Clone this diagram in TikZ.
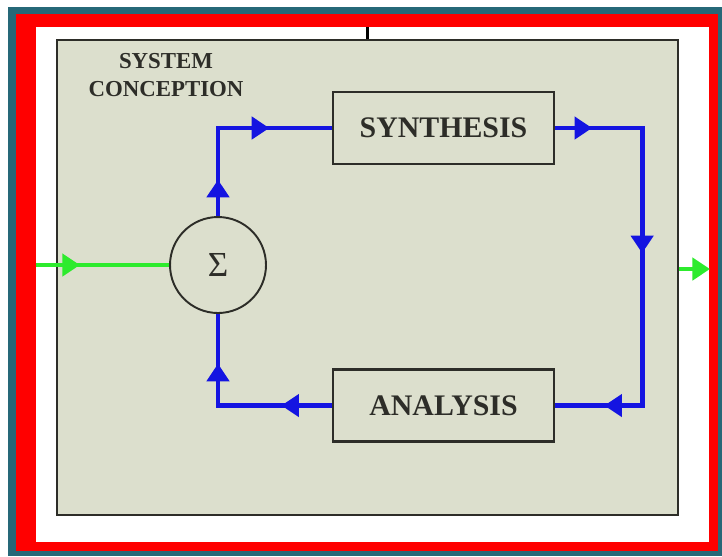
\documentclass[tikz,border=0pt]{standalone}
\usepackage{fontspec}
\setmainfont{Liberation Serif}
\usetikzlibrary{arrows.meta,decorations.markings}

\definecolor{frameteal}{RGB}{38,104,120}
\definecolor{panelgray}{RGB}{220,223,205}
\definecolor{flowblue}{RGB}{20,20,225}
\definecolor{signalgreen}{RGB}{45,235,45}
\definecolor{inkgray}{RGB}{45,45,40}

\tikzset{
  block/.style={draw=inkgray, line width=1.3pt, fill=panelgray, minimum width=4.42cm, minimum height=1.44cm, text=inkgray, font=\fontsize{17}{20}\selectfont\bfseries},
  flow/.style={flowblue, line width=2.8pt},
  signal/.style={signalgreen, line width=2.8pt},
  tipat/.style={postaction={decorate, decoration={markings, mark=at position #1 with {\arrow{Triangle[length=10pt,width=12.5pt]}}}}}
}

\begin{document}
\begin{tikzpicture}[x=0.02cm, y=-0.02cm]
        \useasboundingbox (0,0) rectangle (722,556);

        % Frame
        \fill[frameteal] (8,7) rectangle (722,556);
        \fill[red] (16,14) rectangle (718,551);
        \fill[white] (36,27) rectangle (709,542);

        % Panel
        \node[draw=inkgray, line width=1.4pt, fill=panelgray, minimum width=12.42cm, minimum height=9.5cm] (panel) at (367.5,277.5) {};
        \node[align=center, text=inkgray, font=\fontsize{13}{15.5}\selectfont\bfseries] (title) at (166,75) {SYSTEM\\CONCEPTION};
        \coordinate (top) at (367.5,27);
        \draw[line width=1.6pt, black] (top) -- (panel.north);

        % Blocks
        \node[draw=inkgray, line width=1.1pt, circle, minimum size=1.92cm, inner sep=0pt, text=inkgray, font=\fontsize{20}{24}\selectfont] (sum) at (218,265) {Σ};
        \node[block] (synth) at (443.5,128) {SYNTHESIS};
        \node[block] (ana) at (443.5,405.5) {ANALYSIS};

        % Loop
        \draw[flow, tipat=0.18, tipat=0.69] (sum.north) |- (synth.west);
        \draw[flow, tipat=0.082, tipat=0.47, tipat=0.891] (synth.east) -- ++(87,0) |- (ana.east);
        \draw[flow, tipat=0.246, tipat=0.758] (ana.west) -| (sum.south);

        % Input and output
        \coordinate (in) at (36,265);
        \coordinate (out) at (710,269);
        \draw[signal, tipat=0.33] (in) -- (sum.west);
        \draw[signal, -{Triangle[length=10pt,width=12.5pt]}] (panel.east |- out) -- (out);
    \end{tikzpicture}
\end{document}
